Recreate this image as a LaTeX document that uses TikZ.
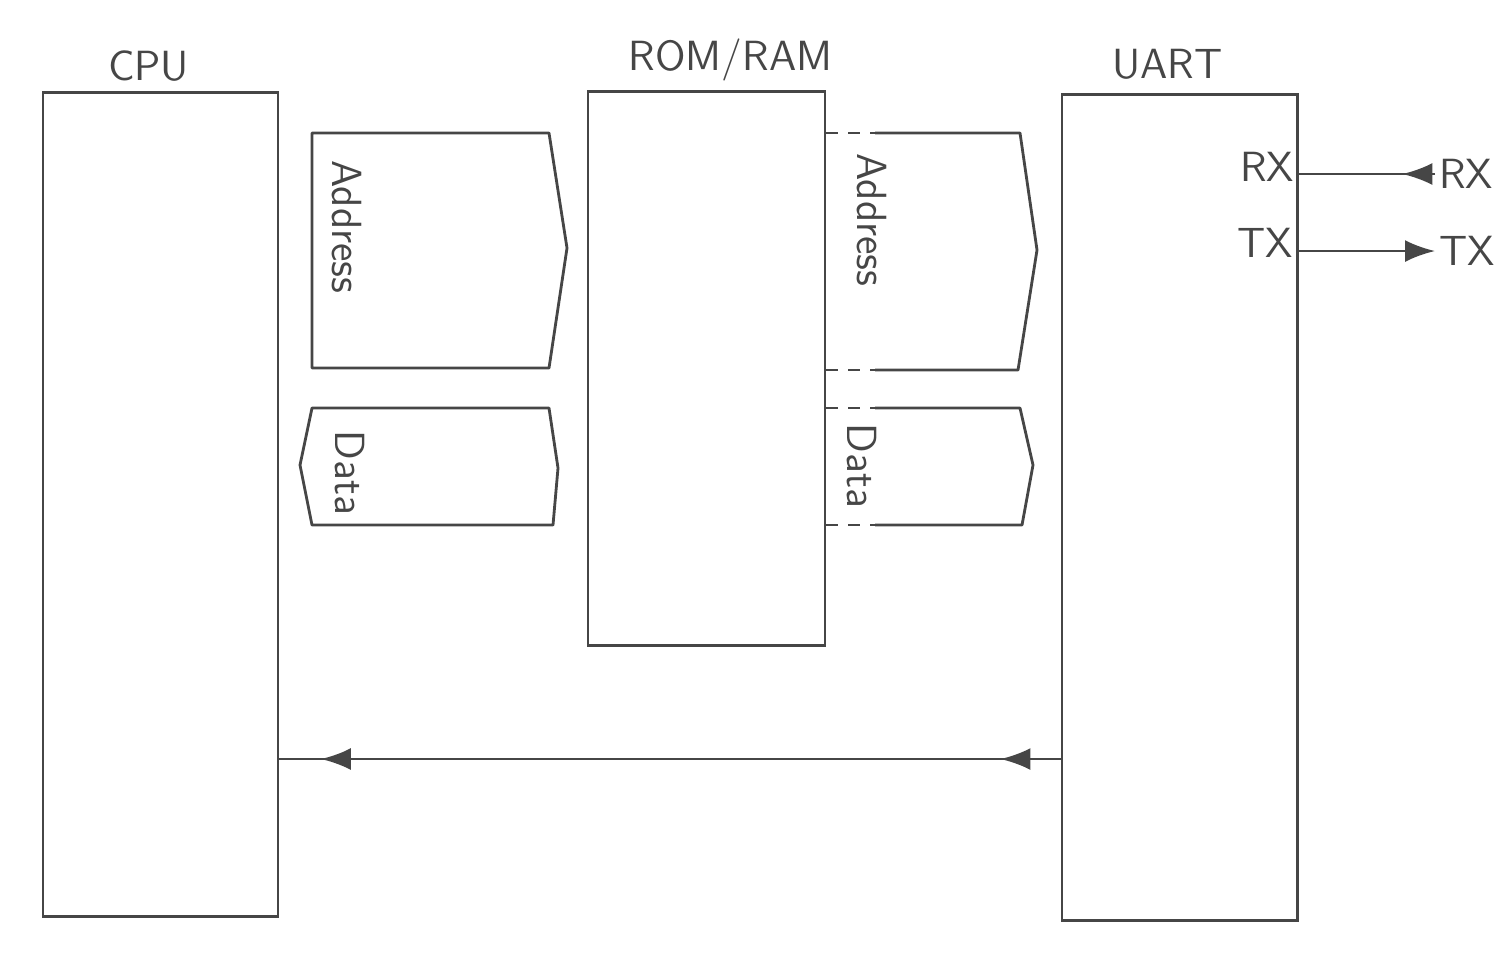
\documentclass[tikz,border=0pt]{standalone}
\usepackage{tikz}
\usetikzlibrary{arrows.meta, positioning, decorations.markings}
\definecolor{skInk}{RGB}{70,70,70}

\begin{document}
\begin{tikzpicture}[x=0.01cm, y=-0.01cm,
    unit/.style={draw=skInk, line width=0.8pt, minimum width=2.35cm, inner sep=0pt},
    title/.style={font=\large\sffamily, text=skInk},
    busline/.style={draw=skInk, line width=0.8pt, line join=round},
    buslabel/.style={font=\large\sffamily, text=skInk, rotate=-90},
    pinlabel/.style={font=\large\sffamily, text=skInk, inner sep=1pt},
    arr/.style={-{Latex[length=3mm,width=2.2mm]}, draw=skInk, line width=0.8pt}
  ]
    \useasboundingbox (0,0) rectangle (1498,956);
    % the three units
    \node[unit, minimum height=8.23cm] (cpu) at (160.5,504.5) {};
    \node[unit, minimum width=2.37cm, minimum height=5.53cm] (mem) at (706.5,368.5) {};
    \node[unit, minimum height=8.25cm] (uart) at (1179.5,507.5) {};
    \node[title] (cpuT) at ([xshift=-0.12cm,yshift=0.25cm]cpu.north) {CPU};
    \node[title] (memT) at ([xshift=0.24cm,yshift=0.30cm]mem.north) {ROM/RAM};
    \node[title] (uartT) at ([xshift=-0.12cm,yshift=0.29cm]uart.north) {UART};
    % CPU <-> ROM/RAM buses
    \draw[busline] (312,133) -- (549,133) -- (567,248) -- (549,368) -- (312,368) -- cycle;
    \node[buslabel] (addrA) at (347,227) {Address};
    \draw[busline] (312,408) -- (549,408) -- (558,468) -- (553,525) -- (312,525) -- (300,465) -- cycle;
    \node[buslabel] (dataA) at (350,473) {Data};
    % ROM/RAM -> UART buses
    \draw[busline, dash pattern=on 1.2mm off 1mm]
      (826,133) -- (875,133) (826,370) -- (875,370)
      (826,408) -- (875,408) (826,525) -- (875,525);
    \draw[busline] (875,133) -- (1020,133) -- (1037,250) -- (1018,370) -- (875,370);
    \node[buslabel] (addrB) at (872,220) {Address};
    \draw[busline] (875,408) -- (1020,408) -- (1033,465) -- (1022,525) -- (875,525);
    \node[buslabel] (dataB) at (862,466) {Data};
    % serial pins
    \coordinate (rxOut) at (1435,174);
    \coordinate (txOut) at (1435,251);
    \node[pinlabel] (rxIn) at (1267,167) {RX};
    \node[pinlabel] (txIn) at (1265,243) {TX};
    \node[pinlabel, anchor=west] (rxL) at (rxOut) {RX};
    \node[pinlabel, anchor=west] (txL) at (txOut) {TX};
    \draw[busline, postaction={decorate}, decoration={markings,
        mark=at position 0.24 with {\arrow{Latex[length=3mm,width=2.2mm]}}}]
      (rxOut) -- (uart.east |- rxOut);
    \draw[arr] (uart.east |- txOut) -- (txOut);
    % UART -> CPU line
    \coordinate (irq) at (0,759);
    \draw[busline, postaction={decorate}, decoration={markings,
        mark=at position 0.077 with {\arrow{Latex[length=3mm,width=2.2mm]}},
        mark=at position 0.947 with {\arrow{Latex[length=3mm,width=2.2mm]}}}]
      (uart.west |- irq) -- (cpu.east |- irq);
\end{tikzpicture}
\end{document}
